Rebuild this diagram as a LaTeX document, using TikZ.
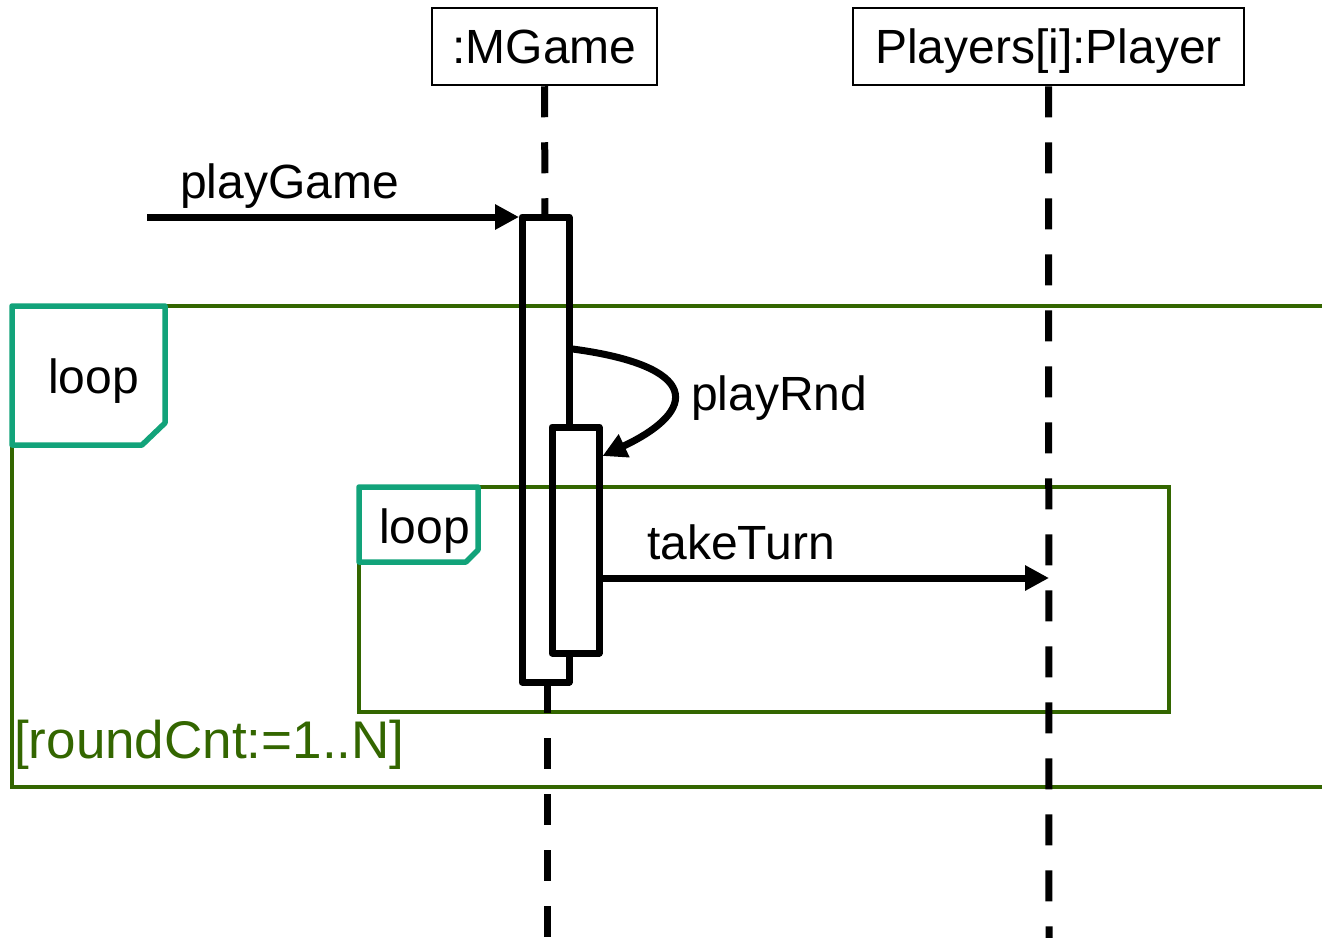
\documentclass[tikz,border=0pt]{standalone}
\usepackage{fontspec}
\setmainfont{Liberation Sans}
\usetikzlibrary{arrows.meta}
\definecolor{framegreen}{RGB}{51,102,0}
\definecolor{tagteal}{RGB}{18,163,122}
\begin{document}
\begin{tikzpicture}[x=1pt,y=-1pt,
  lbl/.style={inner sep=0pt, anchor=base west, font=\fontsize{48}{56}\selectfont},
  head/.style={draw, line width=2.5pt, inner sep=0pt, minimum height=77pt,
    text height=34pt, text depth=0pt, font=\fontsize{48}{56}\selectfont},
  lifeline/.style={line width=7pt, dash pattern=on 31pt off 25pt},
  bar/.style={line width=7pt, line join=round},
  msg/.style={line width=7pt, -{Triangle[length=24pt,width=24pt]}},
  frame/.style={draw=framegreen, line width=4.5pt},
  tag/.style={draw=tagteal, line width=5.5pt, fill=white, line join=round},
]
\useasboundingbox (0,0) rectangle (1322,937);

% combined fragments (outer frame runs off the right edge)
\draw[frame] (1340,306) -- (12,306) -- (12,787) -- (1340,787);
\draw[frame] (359,487) rectangle (1169,712);
\node[text=framegreen, inner sep=0pt, anchor=base west,
  font=\fontsize{53}{60}\selectfont] (guard) at (14,758) {[roundCnt:=1..N]};

% operator tags
\draw[tag] (12,306) -- (165,306) -- (165,423) -- (142,445) -- (12,445) -- cycle;
\node[lbl] (loopA) at (48,393) {loop};
\draw[tag] (359,487) -- (478,487) -- (478,550) -- (466,562) -- (359,562) -- cycle;
\node[lbl] (loopB) at (379,543) {loop};

% lifeline heads
\node[head, minimum width=225pt] (mg) at (544.5,46.5) {:MGame};
\node[head, minimum width=391pt] (pl) at (1048.5,46.5) {Players[i]:Player};

% activation bars
\coordinate (b1top) at (545,217);
\coordinate (b1bot) at (547,682);
\draw[bar] (569,427) -- (569,217) -- (522,217) -- (522,682) -- (569,682) -- (569,653);
\draw[bar] (552,427) rectangle (599,653);

% lifelines
\coordinate (mgend) at (547,940);
\coordinate (plend) at (1049,940);
\draw[lifeline] (mg.south) -- (b1top);
\draw[lifeline] (b1bot) -- (mgend);
\draw[lifeline] (pl.south) -- (plend);

% messages
\coordinate (pgs) at (147,217);
\coordinate (pge) at (519,217);
\draw[msg] (pgs) -- (pge);
\node[lbl] (pgl) at (180,198) {playGame};

\coordinate (prs) at (572.5,349);
\coordinate (pre) at (602.5,456);
\draw[msg] (prs) .. controls (700,366) and (700,410) .. (pre);
\node[lbl] (prl) at (691,410) {playRnd};

\coordinate (tts) at (602.5,578);
\coordinate (tte) at (1049,578);
\draw[msg] (tts) -- (tte);
\node[lbl] (ttl) at (647,559) {takeTurn};
\end{tikzpicture}
\end{document}
